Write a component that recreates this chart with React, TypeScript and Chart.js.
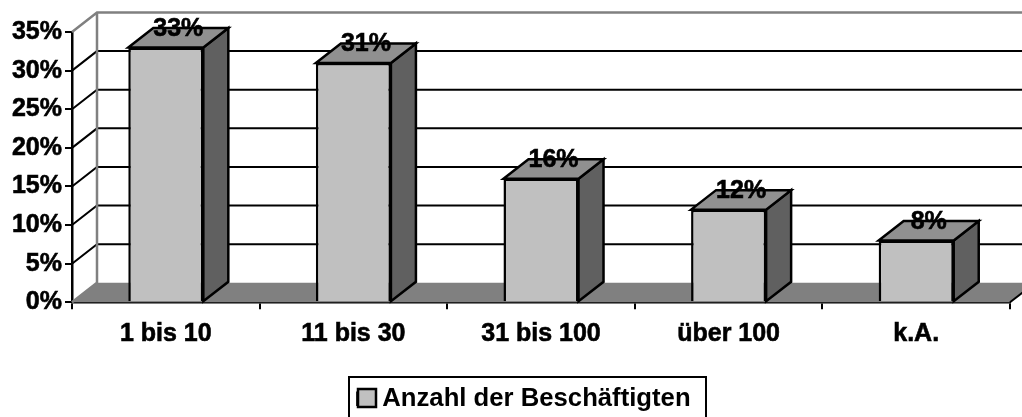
import React, { useEffect, useRef } from "react";
import { Chart, registerables } from "chart.js";

Chart.register(...registerables);

const categories = ["1 bis 10", "11 bis 30", "31 bis 100", "über 100", "k.A."];
const shares = [33, 31, 16, 12, 8];
const seriesName = "Anzahl der Beschäftigten";

const FONT = "'Liberation Sans', Arial, sans-serif";
const FONT_SIZE = 25;
const DX = 25;
const DY = 19.5;
const BAR_FILL = "#c0c0c0";

const poly = (ctx: CanvasRenderingContext2D, pts: number[][]) => {
  ctx.beginPath();
  pts.forEach(([x, y], i) => (i ? ctx.lineTo(x, y) : ctx.moveTo(x, y)));
  ctx.closePath();
};

const threeD = {
  id: "threeD",
  afterLayout(chart: any) {
    const lg = chart.legend;
    lg.left += 19;
    lg.right += 19;
    lg.top = 379;
  },
  beforeDatasetsDraw(chart: any) {
    const { ctx, chartArea: a, scales } = chart;
    const y = scales.y;
    ctx.save();
    ctx.lineJoin = "miter";
    ctx.fillStyle = "#808080";
    poly(ctx, [
      [a.left, a.bottom],
      [a.left + DX, a.bottom - DY],
      [a.right + DX, a.bottom - DY],
      [a.right, a.bottom],
    ]);
    ctx.fill();
    ctx.lineWidth = 2;
    y.ticks.forEach((t: any) => {
      const py = y.getPixelForValue(t.value);
      if (t.value === 0 || t.value === 35) return;
      ctx.strokeStyle = "#000000";
      ctx.beginPath();
      ctx.moveTo(a.left, py);
      ctx.lineTo(a.left + DX, py - DY);
      ctx.lineTo(a.right + DX, py - DY);
      ctx.stroke();
    });
    // outer wall edges
    ctx.lineWidth = 2.5;
    ctx.strokeStyle = "#808080";
    ctx.beginPath();
    ctx.moveTo(a.left, a.top);
    ctx.lineTo(a.left + DX, a.top - DY);
    ctx.lineTo(a.right + DX, a.top - DY);
    ctx.moveTo(a.left + DX, a.top - DY);
    ctx.lineTo(a.left + DX, a.bottom - DY);
    ctx.lineTo(a.left, a.bottom);
    ctx.stroke();
    // right edge of the floor
    ctx.lineWidth = 2;
    ctx.strokeStyle = "#000000";
    ctx.beginPath();
    ctx.moveTo(a.right, a.bottom);
    ctx.lineTo(a.right + DX, a.bottom - DY);
    ctx.stroke();
    // bar side and top faces
    ctx.lineWidth = 2.5;
    chart.getDatasetMeta(0).data.forEach((bar: any) => {
      const l = bar.x - bar.width / 2;
      const r = bar.x + bar.width / 2;
      const t = bar.y;
      const b = bar.base;
      ctx.fillStyle = "#606060";
      poly(ctx, [
        [r, t],
        [r + DX, t - DY],
        [r + DX, b - DY],
        [r, b],
      ]);
      ctx.fill();
      ctx.stroke();
      ctx.fillStyle = "#909090";
      poly(ctx, [
        [l, t],
        [l + DX, t - DY],
        [r + DX, t - DY],
        [r, t],
      ]);
      ctx.fill();
      ctx.stroke();
    });
    ctx.restore();
  },
  afterDatasetsDraw(chart: any) {
    const { ctx } = chart;
    ctx.save();
    ctx.fillStyle = "#000000";
    ctx.strokeStyle = "#000000";
    ctx.lineWidth = 0.6;
    ctx.font = `bold ${FONT_SIZE}px ${FONT}`;
    ctx.textAlign = "center";
    ctx.textBaseline = "middle";
    chart.getDatasetMeta(0).data.forEach((bar: any, i: number) => {
      const txt = `${shares[i]}%`;
      ctx.fillText(txt, bar.x + DX / 2, bar.y - DY + 1);
      ctx.strokeText(txt, bar.x + DX / 2, bar.y - DY + 1);
    });
    ctx.restore();
  },
  afterDraw(chart: any) {
    const { ctx } = chart;
    ctx.save();
    ctx.strokeStyle = "#000000";
    ctx.lineWidth = 2;
    // legend frame runs off the bottom of the picture, as in the reference
    ctx.strokeRect(349, 377, 357, 50);
    // legend swatch
    ctx.lineWidth = 2.5;
    ctx.fillStyle = BAR_FILL;
    ctx.fillRect(358, 389, 18, 18);
    ctx.strokeRect(358, 389, 18, 18);
    ctx.restore();
  },
};

export default function App() {
  const ref = useRef<HTMLCanvasElement>(null);
  useEffect(() => {
    const chart = new Chart(ref.current!, {
      type: "bar",
      data: {
        labels: categories,
        datasets: [
          {
            label: seriesName,
            data: shares,
            backgroundColor: BAR_FILL,
            borderColor: "#000000",
            borderWidth: 2.5,
            categoryPercentage: 1,
            barPercentage: 0.4,
          },
        ],
      },
      options: {
        responsive: false,
        animation: false,
        layout: { padding: { top: 32, right: 12, left: 0, bottom: 2 } },
        plugins: {
          tooltip: { enabled: false },
          legend: {
            position: "bottom",
            labels: {
              boxWidth: 12,
              boxHeight: 12,
              padding: 7,
              color: "#000000",
              font: { family: FONT, size: 25.7, weight: "bold" },
            },
          },
        },
        scales: {
          x: {
            afterFit: (s: any) => {
              s.height = 70;
            },
            border: { color: "#000000", width: 2.5 },
            grid: { drawOnChartArea: false, color: "#000000", lineWidth: 2, tickLength: 7 },
            ticks: {
              color: "#000000",
              padding: 10,
              maxRotation: 0,
              textStrokeColor: "#000000",
              textStrokeWidth: 0.6,
              font: { family: FONT, size: FONT_SIZE, weight: "bold" },
            },
          },
          y: {
            min: 0,
            max: 35,
            afterFit: (s: any) => {
              s.width = 72;
            },
            border: { color: "#000000", width: 2.5 },
            grid: { drawOnChartArea: false, color: "#000000", lineWidth: 2, tickLength: 7 },
            ticks: {
              stepSize: 5,
              color: "#000000",
              padding: 3,
              textStrokeColor: "#000000",
              textStrokeWidth: 0.6,
              font: { family: FONT, size: FONT_SIZE, weight: "bold" },
              callback: (v: any) => `${v}%`,
            },
          },
        },
      },
      plugins: [threeD],
    } as any);
    return () => chart.destroy();
  }, []);
  return (
    <canvas
      ref={ref}
      width={1022}
      height={417}
      style={{ position: "absolute", left: 0, top: 0, display: "block" }}
    />
  );
}
